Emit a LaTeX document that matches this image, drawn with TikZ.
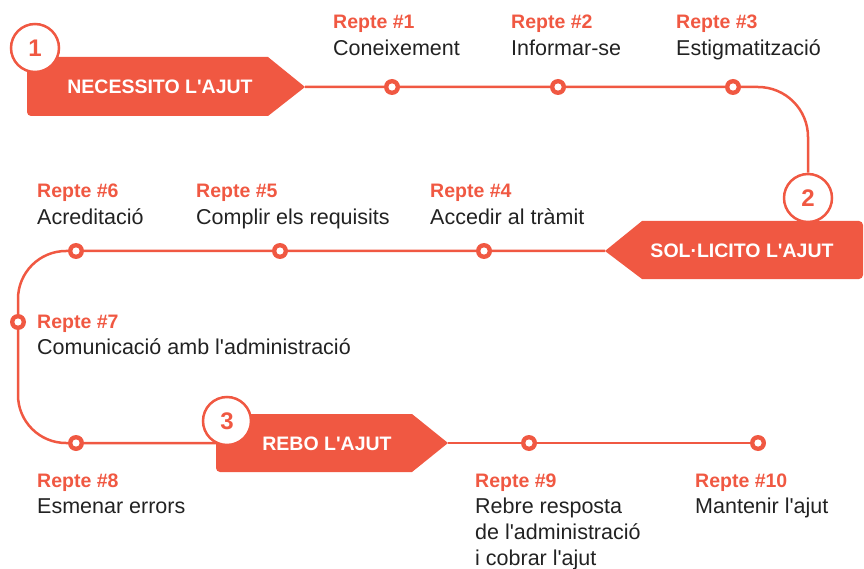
\documentclass[tikz,border=0pt]{standalone}
\usepackage{fontspec}
\setmainfont{Liberation Sans}[Ligatures=TeXOff]
\usetikzlibrary{positioning, backgrounds}
\definecolor{coral}{RGB}{240,88,66}
\definecolor{ink}{RGB}{34,34,34}

\begin{document}
\begin{tikzpicture}[
    x=1pt, y=-1pt,
    track/.style={draw=coral, line width=2.5pt},
    ban/.style={fill=coral},
    bantext/.style={text=white, inner sep=0, font=\fontsize{19.5}{22}\selectfont\bfseries},
    num/.style={circle, draw=coral, line width=2.5pt, fill=white, minimum size=48pt, inner sep=0, text=coral, font=\fontsize{24}{24}\selectfont\bfseries},
    dot/.style={circle, fill=coral, minimum size=16pt, inner sep=0,
        path picture={\fill[white] (path picture bounding box.center) circle (3.6pt);}},
    ttl/.style={anchor=base west, inner sep=0, text=coral, font=\fontsize{19.5}{24}\selectfont\bfseries},
    desc/.style={anchor=base west, inner sep=0, text=ink, align=left, font=\fontsize{21.5}{26}\selectfont},
]
\useasboundingbox (0,0) rectangle (864,569);

% banners
\fill[ban] (305,87) -- (268,57) [rounded corners=4pt] -- (27,57) -- (27,116) [sharp corners] -- (268,116) -- cycle;
\fill[ban] (605,251) -- (642,221) [rounded corners=4pt] -- (863,221) -- (863,279) [sharp corners] -- (642,279) -- cycle;
\fill[ban] (448,443) -- (412,414) [rounded corners=4pt] -- (216,414) -- (216,472) [sharp corners] -- (412,472) -- cycle;
\coordinate (tip1) at (305,87);
\coordinate (tip2) at (605,251);
\coordinate (tip3) at (448,443);
\coordinate (b3w) at (216,443);

\node[bantext] (need) at (160,87) {NECESSITO L'AJUT};
\node[bantext] (apply) at (742,251) {SOL·LICITO L'AJUT};
\node[bantext] (get) at (327,444) {REBO L'AJUT};

\node[num] (c1) at (35,48) {1};
\node[num] (c2) at (808,198) {2};
\node[num] (c3) at (227,421) {3};

% stops
\node[dot] (r1) at (392,87) {};
\node[dot] (r2) at (558,87) {};
\node[dot] (r3) at (733,87) {};
\node[dot] (r4) at (484,251) {};
\node[dot] (r5) at (280,251) {};
\node[dot] (r6) at (76,251) {};
\node[dot] (r7) at (18,322) {};
\node[dot] (r8) at (76,443) {};
\node[dot] (r9) at (529,443) {};
\node[dot] (r10) at (758,443) {};

\begin{scope}[on background layer]
\draw[track, rounded corners=50pt] (tip1) -| (c2);
\draw[track, rounded corners=48pt] (tip2) -| (r7.center);
\draw[track, rounded corners=48pt] (r7.center) |- (b3w);
\draw[track] (tip3) -- (r10);
\end{scope}

% labels
\node[ttl] (t1) at (333,29) {Repte \#1};
\node[desc] (d1) at ([yshift=-27pt]t1.base west) {Coneixement};
\node[ttl] (t2) at (511,29) {Repte \#2};
\node[desc] (d2) at ([yshift=-27pt]t2.base west) {Informar-se};
\node[ttl] (t3) at (676,29) {Repte \#3};
\node[desc] (d3) at ([yshift=-27pt]t3.base west) {Estigmatització};

\node[ttl] (t4) at (430,198) {Repte \#4};
\node[desc] (d4) at ([yshift=-27pt]t4.base west) {Accedir al tràmit};
\node[ttl] (t5) at (196,198) {Repte \#5};
\node[desc] (d5) at ([yshift=-27pt]t5.base west) {Complir els requisits};
\node[ttl] (t6) at (37,198) {Repte \#6};
\node[desc] (d6) at ([yshift=-27pt]t6.base west) {Acreditació};

\node[ttl] (t7) at (37,328) {Repte \#7};
\node[desc] (d7) at ([yshift=-26pt]t7.base west) {Comunicació amb l'administració};

\node[ttl] (t8) at (37,487) {Repte \#8};
\node[desc] (d8) at ([yshift=-26pt]t8.base west) {Esmenar errors};
\node[ttl] (t9) at (475,487) {Repte \#9};
% base of a multi-line node sits on its last line
\node[desc] (d9) at ([yshift=-78pt]t9.base west) {Rebre resposta\\de l'administració\\i cobrar l'ajut};
\node[ttl] (t10) at (695,487) {Repte \#10};
\node[desc] (d10) at ([yshift=-26pt]t10.base west) {Mantenir l'ajut};
\end{tikzpicture}
\end{document}
